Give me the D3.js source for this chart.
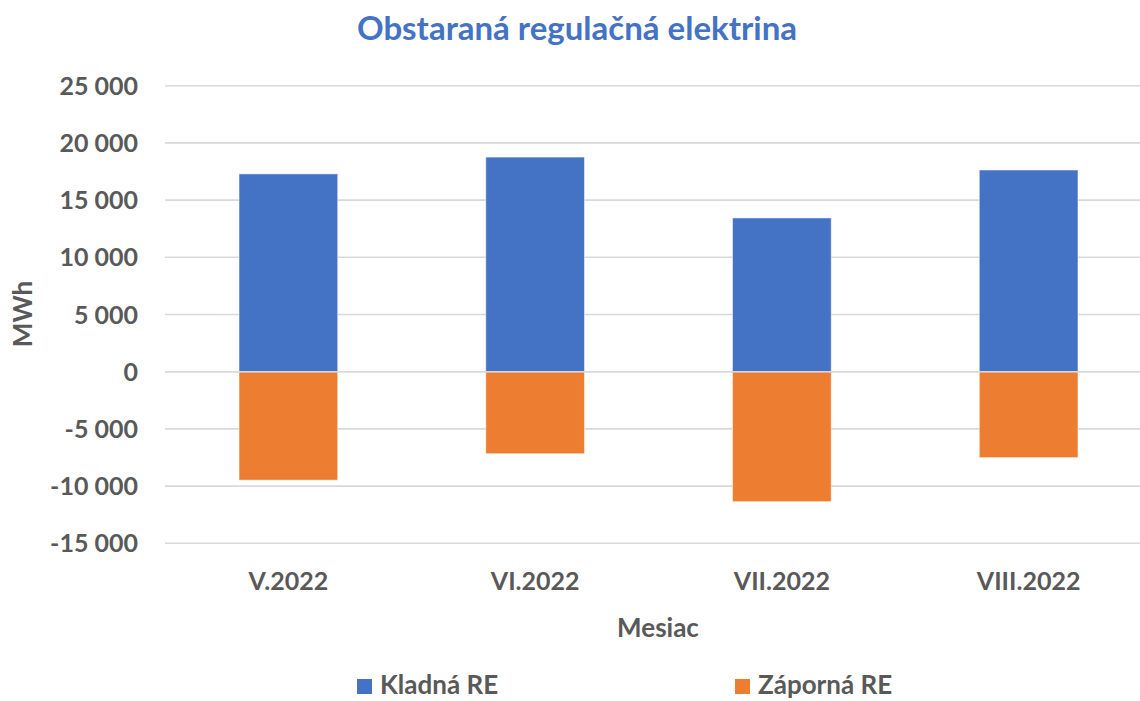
<!DOCTYPE html>
<html><head><meta charset="utf-8">
<script src="https://cdn.jsdelivr.net/npm/d3@7"></script>
<style>html,body{margin:0;padding:0;background:#fff;}svg{display:block;font-family:Lato,"Open Sans",sans-serif;}</style>
</head><body>
<svg id="c" width="1140" height="701"></svg>
<script>
const categories = ["V.2022", "VI.2022", "VII.2022", "VIII.2022"];
const kladna = [17290, 18760, 13440, 17630];
const zaporna = [-9480, -7170, -11360, -7510];
const yTicks = [25000, 20000, 15000, 10000, 5000, 0, -5000, -10000, -15000];
const seriesNames = ["Kladná RE", "Záporná RE"];
const colors = ["#4472C4", "#ED7D31"];

const svg = d3.select("#c");
const x = d3.scaleBand().domain(categories).range([165, 1152]).paddingInner(0.6).paddingOuter(0.3);
const y = d3.scaleLinear().domain([-15000, 25000]).range([543.3, 85.7]);
const fmt = v => {
  const s = d3.format(",")(Math.abs(v)).replace(/,/g, " ");
  return (v < 0 ? "-" : "") + s;
};
const txt = "#595959";

// gridlines
svg.append("g").selectAll("line").data(yTicks).join("line")
  .attr("x1", 165).attr("x2", 1140)
  .attr("y1", d => y(d)).attr("y2", d => y(d))
  .attr("stroke", "#d9d9d9").attr("stroke-width", 1.6);

// y tick labels
svg.append("g").selectAll("text").data(yTicks).join("text")
  .attr("x", 138).attr("y", d => y(d)).attr("dy", "0.36em")
  .attr("text-anchor", "end").attr("fill", txt)
  .attr("font-size", 25).attr("font-weight", 700)
  .text(fmt);

// bars
const series = [kladna, zaporna];
series.forEach((vals, i) => {
  svg.append("g").selectAll("rect").data(vals).join("rect")
    .attr("x", (d, j) => x(categories[j]))
    .attr("width", x.bandwidth())
    .attr("y", d => Math.min(y(0), y(d)))
    .attr("height", d => Math.abs(y(d) - y(0)))
    .attr("fill", colors[i])
    .attr("stroke", "#ffffff").attr("stroke-opacity", 0.5).attr("stroke-width", 1);
});

// zero axis line
svg.append("line").attr("x1", 165).attr("x2", 1140)
  .attr("y1", y(0)).attr("y2", y(0))
  .attr("stroke", "#d9d9d9").attr("stroke-width", 1.6);

// x tick labels
svg.append("g").selectAll("text").data(categories).join("text")
  .attr("x", d => x(d) + x.bandwidth() / 2).attr("y", 590)
  .attr("text-anchor", "middle").attr("fill", txt)
  .attr("font-size", 25).attr("font-weight", 700)
  .text(d => d);

// axis titles
svg.append("text").attr("x", 658).attr("y", 637).attr("text-anchor", "middle")
  .attr("fill", txt).attr("font-size", 26).attr("font-weight", 700).text("Mesiac");
svg.append("text").attr("transform", "translate(32,314) rotate(-90)").attr("text-anchor", "middle")
  .attr("fill", txt).attr("font-size", 26).attr("font-weight", 700).text("MWh");

// title
svg.append("text").attr("x", 577).attr("y", 40).attr("text-anchor", "middle")
  .attr("fill", "#4472C4").attr("font-size", 33).attr("font-weight", 700)
  .text("Obstaraná regulačná elektrina");

// legend
const legX = [357, 735];
seriesNames.forEach((n, i) => {
  const g = svg.append("g");
  g.append("rect").attr("x", legX[i]).attr("y", 679).attr("width", 15).attr("height", 15).attr("fill", colors[i]);
  g.append("text").attr("x", legX[i] + 23).attr("y", 694).attr("fill", txt)
    .attr("font-size", 26).attr("font-weight", 700).text(n);
});
</script>
</body></html>
